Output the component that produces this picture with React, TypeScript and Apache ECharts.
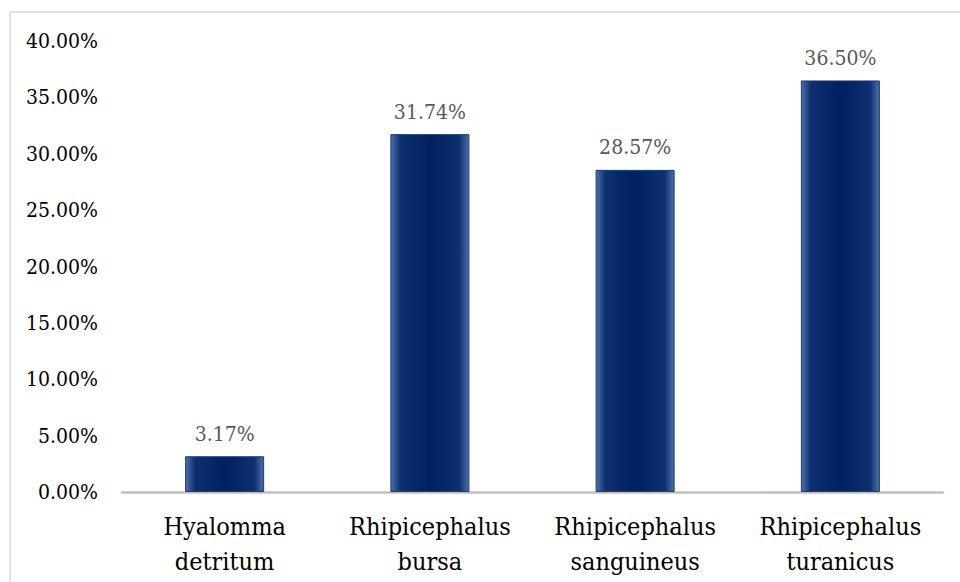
import React, { useEffect, useRef } from "react";
import * as echarts from "echarts";

const categories = ["Hyalomma\ndetritum", "Rhipicephalus\nbursa", "Rhipicephalus\nsanguineus", "Rhipicephalus\nturanicus"];
const values = [3.17, 31.74, 28.57, 36.5];
const yMin = 0;
const yMax = 40;
const yInterval = 5;

const SERIF = "DejaVu Serif Condensed";

export default function App() {
  const ref = useRef<HTMLDivElement>(null);
  useEffect(() => {
    if (!ref.current) return;
    const chart = echarts.init(ref.current, null, { renderer: "svg" });
    const barColor = new echarts.graphic.LinearGradient(0, 0, 1, 0, [
      { offset: 0, color: "#4a70aa" },
      { offset: 0.12, color: "#0f3070" },
      { offset: 0.5, color: "#00205f" },
      { offset: 0.88, color: "#0f3070" },
      { offset: 1, color: "#4a70aa" },
    ]);
    chart.setOption({
      animation: false,
      backgroundColor: "#ffffff",
      textStyle: { fontFamily: SERIF },
      graphic: [
        {
          type: "rect",
          shape: { x: 10, y: 12, width: 960, height: 600 },
          style: { fill: "none", stroke: "#d9d9d9", lineWidth: 1.5 },
          silent: true,
        },
      ],
      grid: { left: 122, right: 17, top: 41, bottom: 90, containLabel: false },
      xAxis: {
        type: "category",
        data: categories,
        axisLine: { show: true, lineStyle: { color: "#bfbfbf", width: 2.5 } },
        axisTick: { show: false },
        axisLabel: {
          color: "#000000",
          fontFamily: SERIF,
          fontSize: 25,
          lineHeight: 35,
          margin: 17,
          interval: 0,
        },
      },
      yAxis: {
        type: "value",
        min: yMin,
        max: yMax,
        interval: yInterval,
        splitLine: { show: false },
        axisLine: { show: false },
        axisTick: { show: false },
        axisLabel: {
          color: "#000000",
          fontFamily: SERIF,
          fontSize: 21,
          margin: 24,
          formatter: (v: number) => v.toFixed(2) + "%",
        },
      },
      series: [
        {
          type: "bar",
          data: values,
          barWidth: "38.5%",
          itemStyle: { color: barColor, borderColor: "#1f3a6e", borderWidth: 1 },
          label: {
            show: true,
            position: "top",
            distance: 12,
            color: "#595959",
            fontFamily: SERIF,
            fontSize: 21,
            formatter: (p: any) => Number(p.value).toFixed(2) + "%",
          },
        },
      ],
    });
    return () => chart.dispose();
  }, []);
  return (
    <div
      ref={ref}
      style={{ position: "absolute", left: 0, top: 0, width: 960, height: 582 }}
    />
  );
}
